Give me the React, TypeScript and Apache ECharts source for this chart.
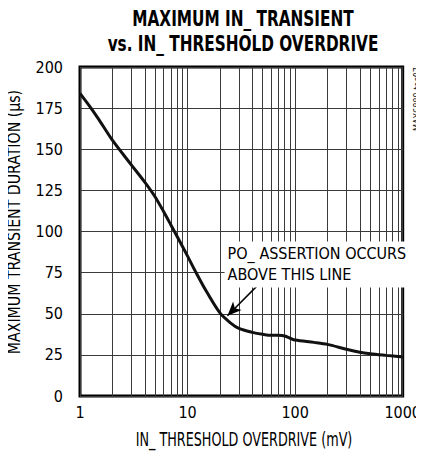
import React, { useEffect, useRef } from "react";
import * as echarts from "echarts";

const FONT = "'DejaVu Sans Condensed', 'DejaVu Sans', sans-serif";

const xValues = [1, 1.25, 1.5, 2, 3, 4, 5, 6, 7, 8, 10, 12, 15, 20, 25, 30, 40, 50, 60, 70, 80, 90, 100, 150, 200, 300, 400, 500, 700, 1000];
const yValues = [184, 175.5, 168, 155.5, 140.5, 130, 121, 112, 104, 97, 85, 75, 63.5, 50.5, 44.5, 41.1, 38.7, 37.5, 36.9, 36.9, 36.5, 35.1, 34, 32.6, 31.4, 28.4, 26.6, 25.7, 24.7, 23.7];
const minorX = [2, 3, 4, 5, 6, 7, 8, 9, 20, 30, 40, 50, 60, 70, 80, 90, 200, 300, 400, 500, 600, 700, 800, 900];
const arrowFrom = [46, 68];
const arrowTo = [23.5, 48.8];
const noteAt = [22.1, 80];
const noteText = "PO_ ASSERTION OCCURS\nABOVE THIS LINE";
const titleText = "MAXIMUM IN_ TRANSIENT\nvs. IN_ THRESHOLD OVERDRIVE";
const xName = "IN_ THRESHOLD OVERDRIVE (mV)";
const yName = "MAXIMUM TRANSIENT DURATION (µs)";
const codeText = "MAX6889 toc07";

export default function App() {
  const ref = useRef<HTMLDivElement>(null);
  useEffect(() => {
    if (!ref.current) return;
    const chart = echarts.init(ref.current, undefined, { renderer: "svg" });
    const gridColor = "#3a3a3a";
    chart.setOption({
      animation: false,
      backgroundColor: "#fff",
      graphic: [
        {
          type: "text",
          x: 243,
          y: 6,
          scaleX: 0.81,
          style: {
            text: titleText,
            align: "center",
            fontFamily: FONT,
            fontWeight: "bold",
            fontSize: 21,
            lineHeight: 25,
            fill: "#000",
          },
        },
        {
          type: "text",
          x: 244,
          y: 439,
          scaleX: 0.71,
          style: {
            text: xName,
            align: "center",
            verticalAlign: "middle",
            fontFamily: FONT,
            fontSize: 20,
            fill: "#000",
          },
        },
        {
          type: "text",
          x: 14,
          y: 222,
          rotation: Math.PI / 2,
          scaleX: 0.9,
          style: {
            text: yName,
            align: "center",
            verticalAlign: "middle",
            fontFamily: FONT,
            fontSize: 17.5,
            fill: "#000",
          },
        },
        {
          type: "text",
          x: 417,
          y: 67,
          rotation: Math.PI / 2,
          scaleX: 0.9,
          style: {
            text: codeText,
            align: "right",
            verticalAlign: "middle",
            fontFamily: FONT,
            fontSize: 10,
            fill: "#222",
          },
        },
      ],
      grid: {
        left: 80,
        right: 16,
        top: 67,
        bottom: 63,
        show: true,
        borderColor: "#000",
        borderWidth: 3,
        backgroundColor: "transparent",
      },
      xAxis: {
        type: "log",
        logBase: 10,
        min: 1,
        max: 1000,
        axisLine: { show: false },
        axisTick: { show: false },
        axisLabel: {
          fontFamily: FONT,
          fontSize: 16,
          color: "#000",
          margin: 8,
          formatter: (v: number) => String(Math.round(v)),
        },
        splitLine: { show: true, lineStyle: { color: gridColor, width: 1 } },
      },
      yAxis: {
        type: "value",
        min: 0,
        max: 200,
        interval: 25,
        axisLine: { show: false },
        axisTick: { show: false },
        axisLabel: { fontFamily: FONT, fontSize: 16, color: "#000", margin: 17 },
        splitLine: { show: true, lineStyle: { color: gridColor, width: 1 } },
      },
      series: [
        {
          type: "line",
          data: xValues.map((x, i) => [x, yValues[i]]),
          showSymbol: false,
          smooth: 0.3,
          lineStyle: { color: "#111", width: 3 },
          z: 5,
          markLine: {
            silent: true,
            symbol: ["none", "none"],
            label: { show: false },
            lineStyle: { color: gridColor, width: 1, type: "solid" },
            data: minorX.map((v) => ({ xAxis: v })),
            z: 1,
          },
        },
        {
          type: "line",
          data: [],
          z: 10,
          markPoint: {
            silent: true,
            symbol: "rect",
            symbolSize: 0,
            data: [{ coord: noteAt }],
            label: {
              show: true,
              position: "right",
              distance: 0,
              formatter: noteText,
              align: "left",
              fontFamily: FONT,
              fontSize: 16,
              lineHeight: 21,
              color: "#000",
              backgroundColor: "#fff",
              padding: [2, 3, 2, 3],
            },
          },
          markLine: {
            silent: true,
            symbol: ["none", "arrow"],
            symbolSize: [9, 14],
            label: { show: false },
            lineStyle: { color: "#000", width: 1.5, type: "solid" },
            data: [[{ coord: arrowFrom }, { coord: arrowTo }]],
          },
        },
      ],
    });
    return () => chart.dispose();
  }, []);
  return <div ref={ref} style={{ width: 424, height: 459, margin: -8 }} />;
}
